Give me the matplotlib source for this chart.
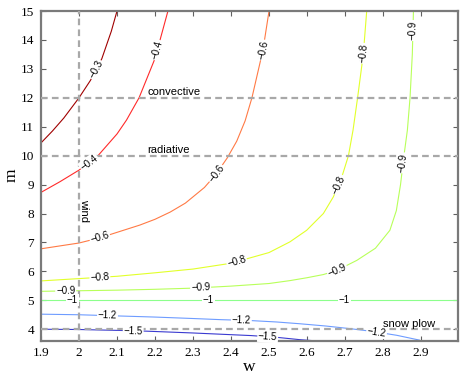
import numpy as np
import matplotlib
matplotlib.use('Agg')
import matplotlib.pyplot as plt

# ---------------- data ----------------
levels = [-0.3, -0.4, -0.6, -0.8, -0.9, -1.0, -1.2, -1.5]
level_text = ['−0.3', '−0.4', '−0.6', '−0.8', '−0.9', '−1', '−1.2', '−1.5']
level_colors = ['#a00000', '#ff2a2a', '#ff7a45', '#e2ff2a', '#b8ff5a',
                '#8cff8c', '#6e9cff', '#3a3ad0']

w_03 = [1.9, 1.93, 1.96, 2.0, 2.03, 2.06, 2.085, 2.1]
m_03 = [10.44, 10.85, 11.3, 12.0, 12.6, 13.35, 14.3, 15.0]

w_04 = [1.9, 1.95, 2.0, 2.05, 2.1, 2.125, 2.158, 2.2, 2.234]
m_04 = [8.73, 9.1, 9.5, 10.0, 10.75, 11.23, 12.0, 13.36, 15.0]

w_06 = [1.9, 2.0, 2.055, 2.16, 2.2, 2.24, 2.28, 2.33, 2.36, 2.39, 2.415, 2.437,
        2.455, 2.484, 2.5]
m_06 = [6.78, 6.98, 7.16, 7.6, 7.8, 8.05, 8.36, 8.9, 9.35, 9.92, 10.5, 11.2,
        12.0, 13.65, 15.0]

w_08 = [1.9, 2.0, 2.1, 2.2, 2.3, 2.4, 2.5, 2.555, 2.599, 2.643, 2.669, 2.69,
        2.709, 2.721, 2.733, 2.748, 2.757]
m_08 = [5.67, 5.75, 5.83, 5.95, 6.08, 6.28, 6.65, 7.02, 7.42, 8.0, 8.57, 9.2,
        10.0, 10.88, 12.0, 13.5, 15.0]

w_09 = [1.9, 2.0, 2.1, 2.2, 2.3, 2.4, 2.5, 2.555, 2.6, 2.643, 2.678, 2.731,
        2.78, 2.818, 2.835, 2.846, 2.855, 2.864, 2.871, 2.877, 2.88]
m_09 = [5.31, 5.33, 5.35, 5.38, 5.42, 5.49, 5.58, 5.68, 5.78, 5.89, 6.03, 6.38,
        6.8, 7.42, 8.1, 9.0, 10.0, 10.88, 12.0, 13.5, 15.0]

w_10 = [1.9, 3.0]
m_10 = [5.0, 5.0]

w_12 = [1.9, 2.0, 2.1, 2.2, 2.3, 2.374, 2.45, 2.52, 2.58, 2.65, 2.713, 2.75,
        2.783, 2.836, 2.897]
m_12 = [4.52, 4.50, 4.46, 4.42, 4.37, 4.33, 4.30, 4.25, 4.19, 4.11, 4.02, 3.96,
        3.90, 3.79, 3.62]

w_15 = [1.9, 2.0, 2.1, 2.163, 2.3, 2.453, 2.52, 2.58, 2.66]
m_15 = [4.0, 3.99, 3.96, 3.94, 3.87, 3.78, 3.72, 3.64, 3.56]

curves_w = [w_03, w_04, w_06, w_08, w_09, w_10, w_12, w_15]
curves_m = [m_03, m_04, m_06, m_08, m_09, m_10, m_12, m_15]

# approximate places of the inline contour labels (snapped onto the curves)
labels_03 = [(2.047, 12.96)]
labels_04 = [(2.025, 9.79), (2.209, 13.65)]
labels_06 = [(2.055, 7.18), (2.36, 9.4), (2.484, 13.65)]
labels_08 = [(2.055, 5.76), (2.415, 6.33), (2.685, 8.98), (2.748, 13.54)]
labels_09 = [(1.966, 5.31), (2.32, 5.43), (2.678, 6.06), (2.855, 9.74), (2.878, 14.34)]
labels_10 = [(1.98, 5.0), (2.34, 5.0), (2.695, 5.0)]
labels_12 = [(2.075, 4.46), (2.428, 4.31), (2.783, 3.9)]
labels_15 = [(2.142, 3.94), (2.497, 3.74)]
all_labels = [labels_03, labels_04, labels_06, labels_08, labels_09,
              labels_10, labels_12, labels_15]

# reference regimes
wind_w = 2.0
regime_m = [12.0, 10.0, 4.0]
regime_names = ['convective', 'radiative', 'snow plow']
regime_text_w = [2.18, 2.18, 2.80]

xticks = [1.9, 2.0, 2.1, 2.2, 2.3, 2.4, 2.5, 2.6, 2.7, 2.8, 2.9]
xticklabels = ['1.9', '2', '2.1', '2.2', '2.3', '2.4', '2.5', '2.6', '2.7', '2.8', '2.9']
yticks = list(range(4, 16))

# ---------------- figure ----------------
fig = plt.figure(figsize=(4.63, 3.77), dpi=100)
ax = fig.add_axes([41 / 463, 1 - 340.5 / 377, (458.3 - 41) / 463, (340.5 - 11) / 377])
ax.set_xlim(1.9, 2.998)
ax.set_ylim(3.61, 15)

serif = 'Liberation Serif'
sans = 'Liberation Sans'

for cw, cm, col in zip(curves_w, curves_m, level_colors):
    ax.plot(cw, cm, color=col, lw=0.8, zorder=2, solid_capstyle='butt')

dash_kw = dict(color='#a8a8a8', lw=1.6, dashes=(3.0, 1.9), zorder=3)
ax.axvline(wind_w, **dash_kw)
for mm in regime_m:
    ax.axhline(mm, **dash_kw)

for name, mm, ww in zip(regime_names, regime_m, regime_text_w):
    ax.text(ww, mm + 0.09, name, fontsize=8, family=sans, ha='left',
            va='baseline', zorder=6)
ax.text(wind_w + 0.012, 8.1, 'wind', fontsize=8, family=sans, rotation=-90,
        ha='center', va='center', zorder=6)

fig.canvas.draw()
trans = ax.transData
for cw, cm, labs, txt in zip(curves_w, curves_m, all_labels, level_text):
    pts = trans.transform(np.column_stack([cw, cm]))
    dense = []
    for i in range(len(pts) - 1):
        seg = np.linspace(pts[i], pts[i + 1], 40, endpoint=False)
        dense.append(seg)
    dense.append(pts[-1:])
    dense = np.vstack(dense)
    for (lw_, lm_) in labs:
        p = trans.transform([[lw_, lm_]])[0]
        k = int(np.argmin(np.sum((dense - p) ** 2, axis=1)))
        k0 = max(k - 6, 0)
        k1 = min(k + 6, len(dense) - 1)
        d = dense[k1] - dense[k0]
        ang = np.degrees(np.arctan2(d[1], d[0]))
        if ang > 90:
            ang -= 180
        if ang < -90:
            ang += 180
        xy = trans.inverted().transform(dense[k])
        ax.text(xy[0], xy[1], txt, fontsize=7, family=sans, rotation=ang,
                rotation_mode='anchor', ha='center', va='center', zorder=5,
                bbox=dict(facecolor='white', edgecolor='none', pad=0.6))

ax.set_xticks(xticks)
ax.set_xticklabels(xticklabels)
ax.set_yticks(yticks)
ax.tick_params(direction='in', length=3.5, width=0.8, top=True, right=True,
               colors='#606060', labelcolor='black', labelsize=9.5, pad=5)
for lab in ax.get_xticklabels() + ax.get_yticklabels():
    lab.set_family(serif)
for sp in ax.spines.values():
    sp.set_color('#7a7a7a')
    sp.set_linewidth(1.6)

ax.set_xlabel('w', family=serif, fontsize=12.5, labelpad=0)
ax.set_ylabel('m', family=serif, fontsize=12.5, labelpad=1)

fig.savefig('out.png', dpi=100)
